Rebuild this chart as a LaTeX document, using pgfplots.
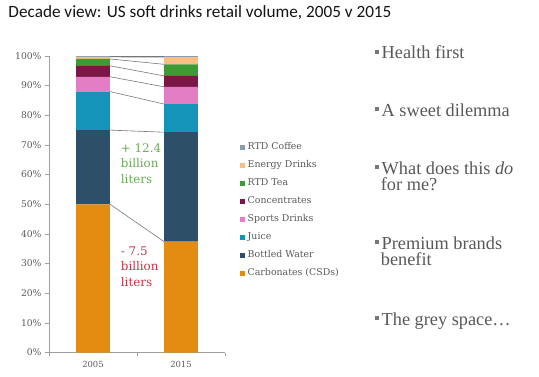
\documentclass[border=0pt]{standalone}
\usepackage{pgfplots}
\pgfplotsset{compat=1.18}
\usepackage{fontspec}
\setmainfont{DejaVu Serif}
\newfontfamily\titlefont{Carlito}
\newfontfamily\slidefont{Liberation Serif}
\definecolor{cCSD}{RGB}{228,140,18}
\definecolor{cWater}{RGB}{45,80,104}
\definecolor{cJuice}{RGB}{19,148,184}
\definecolor{cSports}{RGB}{228,126,196}
\definecolor{cConc}{RGB}{122,23,70}
\definecolor{cTea}{RGB}{61,154,52}
\definecolor{cEnergy}{RGB}{249,190,134}
\definecolor{cCoffee}{RGB}{140,156,173}
\definecolor{axisgrey}{RGB}{160,160,160}
\definecolor{labelgrey}{RGB}{89,89,89}
\definecolor{linegrey}{RGB}{120,120,120}
\definecolor{slidegrey}{RGB}{88,88,88}
\definecolor{bulletgrey}{RGB}{120,120,120}
\definecolor{titlecol}{RGB}{20,20,20}
\definecolor{plusgreen}{RGB}{106,171,92}
\definecolor{minusred}{RGB}{196,52,70}
\pgfplotsset{
  legsq/.style={legend image code/.code={\fill[##1] (0pt,-2.6pt) rectangle (5.2pt,2.6pt);}},
  geom/.style={at={(49pt,23.5pt)}, anchor=south west, scale only axis,
    width=176pt, height=296.5pt, xmin=-0.5, xmax=1.5, ymin=0, ymax=100},
}
\begin{document}
\begin{tikzpicture}
\path[use as bounding box] (0pt,0pt) rectangle (539pt,376pt);
% title
\node[anchor=base west, inner sep=0pt, text=titlecol,
  font=\titlefont\fontsize{17.2}{20}\selectfont] at (8.3pt,358.7pt)
  {Decade view: US soft drinks retail volume, 2005 v 2015};
% bar chart
\begin{axis}[geom,
  ybar stacked, bar width=0.386,
  axis x line*=bottom, axis y line*=left,
  axis line style={-, draw=axisgrey, line width=0.6pt},
  tick align=outside,
  xtick={0,1}, xticklabels={2005,2015},
  major x tick style={draw=none},
  minor xtick={-0.5,0.5,1.5},
  minor x tick style={draw=axisgrey, line width=0.6pt},
  minor tick length=3pt,
  major tick length=4pt,
  y tick style={draw=axisgrey, line width=0.6pt},
  ytick={0,10,...,100},
  yticklabels={0\%,10\%,20\%,30\%,40\%,50\%,60\%,70\%,80\%,90\%,100\%},
  x tick label style={font=\fontsize{8.4}{9}\selectfont, text=labelgrey, yshift=-1.5pt},
  y tick label style={font=\fontsize{9.2}{10}\selectfont, text=labelgrey},
  reverse legend,
  legend cell align=left,
  legend style={at={(1.0824,0.7066)}, anchor=north west, draw=none, fill=none,
    inner sep=0pt, row sep=9.5pt,
    font=\fontsize{9.4}{10}\selectfont, text=labelgrey,
    nodes={inner sep=0pt, text height=6.7pt, text depth=1.8pt},
    /tikz/every odd column/.append style={column sep=2.8pt}},
]
\addplot[fill=cCSD, draw=none, legsq] coordinates {(0,50) (1,37.4)};
\addlegendentry{Carbonates (CSDs)}
\addplot[fill=cWater, draw=none, legsq] coordinates {(0,25) (1,36.9)};
\addlegendentry{Bottled Water}
\addplot[fill=cJuice, draw=none, legsq] coordinates {(0,13) (1,9.5)};
\addlegendentry{Juice}
\addplot[fill=cSports, draw=none, legsq] coordinates {(0,5) (1,5.8)};
\addlegendentry{Sports Drinks}
\addplot[fill=cConc, draw=none, legsq] coordinates {(0,3.7) (1,3.7)};
\addlegendentry{Concentrates}
\addplot[fill=cTea, draw=none, legsq] coordinates {(0,2.3) (1,3.9)};
\addlegendentry{RTD Tea}
\addplot[fill=cEnergy, draw=none, legsq] coordinates {(0,0.7) (1,2.4)};
\addlegendentry{Energy Drinks}
\addplot[fill=cCoffee, draw=none, legsq] coordinates {(0,0.3) (1,0.4)};
\addlegendentry{RTD Coffee}
\end{axis}
% series lines
\begin{axis}[geom, hide axis]
\addplot[linegrey, line width=0.6pt, no marks] coordinates {(0.193,50) (0.807,37.4)};
\addplot[linegrey, line width=0.6pt, no marks] coordinates {(0.193,75) (0.807,74.3)};
\addplot[linegrey, line width=0.6pt, no marks] coordinates {(0.193,88) (0.807,83.8)};
\addplot[linegrey, line width=0.6pt, no marks] coordinates {(0.193,93) (0.807,89.6)};
\addplot[linegrey, line width=0.6pt, no marks] coordinates {(0.193,96.7) (0.807,93.3)};
\addplot[linegrey, line width=0.6pt, no marks] coordinates {(0.193,99) (0.807,97.2)};
\addplot[linegrey, line width=0.6pt, no marks] coordinates {(0.193,99.7) (0.807,99.6)};
\addplot[linegrey, line width=0.6pt, no marks] coordinates {(0.193,100) (0.807,100)};
\end{axis}
% annotations (anchored at the baseline of the last line)
\node[anchor=base west, inner sep=0pt, align=left, text=plusgreen,
  font=\fontsize{11.9}{15.5}\selectfont] at (120.7pt,193pt) {+ 12.4\\billion\\liters};
\node[anchor=base west, inner sep=0pt, align=left, text=minusred,
  font=\fontsize{11.9}{15.5}\selectfont] at (120.7pt,90pt) {- 7.5\\billion\\liters};
% right-hand text
\begin{scope}[every node/.style={anchor=base west, inner sep=0pt, align=left, text=slidegrey, font=\slidefont\fontsize{18.3}{16}\selectfont}]
\newcommand{\blt}{\textcolor{bulletgrey}{\rule[4.8pt]{4pt}{4pt}}\hspace{2.5pt}}
\node at (375pt,317.7pt) {\blt Health first};
\node at (375pt,260pt) {\blt A sweet dilemma};
\node at (375pt,186pt) {\blt What does this \textit{do}\\\hspace*{5.7pt}for me?};
\node at (375pt,111pt) {\blt Premium brands\\\hspace*{5.7pt}benefit};
\node at (375pt,51pt) {\blt The grey space\ldots};
\end{scope}
\end{tikzpicture}
\end{document}
